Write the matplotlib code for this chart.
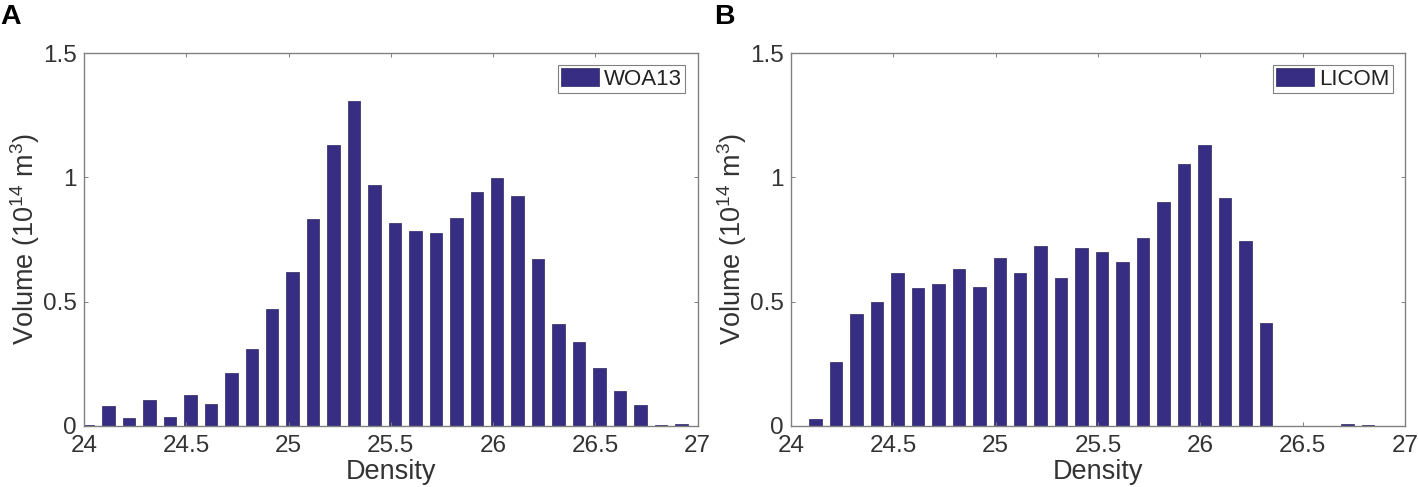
import numpy as np
import matplotlib
matplotlib.use("Agg")
import matplotlib.pyplot as plt

plt.rcParams['font.family'] = ['Liberation Sans', 'DejaVu Sans']
plt.rcParams['mathtext.fontset'] = 'custom'
plt.rcParams['mathtext.rm'] = 'Liberation Sans'
plt.rcParams['mathtext.default'] = 'regular'

density = [24.02, 24.12, 24.22, 24.32, 24.42, 24.52, 24.62, 24.72, 24.82, 24.92,
           25.02, 25.12, 25.22, 25.32, 25.42, 25.52, 25.62, 25.72, 25.82, 25.92,
           26.02, 26.12, 26.22, 26.32, 26.42, 26.52, 26.62, 26.72, 26.82, 26.92]
woa13 = [0.004, 0.08, 0.032, 0.105, 0.035, 0.123, 0.09, 0.212, 0.308, 0.47,
         0.62, 0.834, 1.131, 1.308, 0.969, 0.818, 0.785, 0.777, 0.838, 0.942,
         0.997, 0.925, 0.67, 0.409, 0.338, 0.232, 0.142, 0.086, 0.005, 0.008]
licom = [0.0, 0.028, 0.257, 0.45, 0.499, 0.614, 0.555, 0.571, 0.63, 0.559,
         0.674, 0.617, 0.725, 0.594, 0.717, 0.698, 0.661, 0.757, 0.902, 1.055,
         1.129, 0.918, 0.745, 0.414, 0.002, 0.0005, 0.002, 0.01, 0.003, 0.0005]
xticks = [24, 24.5, 25, 25.5, 26, 26.5, 27]
xticklabels = ['24', '24.5', '25', '25.5', '26', '26.5', '27']
yticks = [0, 0.5, 1, 1.5]
yticklabels = ['0', '0.5', '1', '1.5']

W, H = 1418, 487
BAR = '#372d82'
GREY = '#808080'
TEXT = '#333333'

fig = plt.figure(figsize=(W / 100, H / 100), dpi=100)


def panel(x0, x1, values, name, letter, letter_x):
    ax = fig.add_axes([x0 / W, 1 - 426 / H, (x1 - x0) / W, 373 / H])
    ax.bar(density, values, width=0.061, color=BAR, edgecolor='#2a2560',
           linewidth=0.5, label=name)
    ax.set_xlim(24, 27)
    ax.set_ylim(0, 1.5)
    ax.set_xticks(xticks)
    ax.set_xticklabels(xticklabels)
    ax.set_yticks(yticks)
    ax.set_yticklabels(yticklabels)
    ax.tick_params(direction='in', top=True, right=True, length=3, width=0.7,
                   color=GREY, labelcolor=TEXT, labelsize=17.5)
    ax.tick_params(axis='x', pad=6.5)
    ax.tick_params(axis='y', pad=5)
    for s in ax.spines.values():
        s.set_color(GREY)
        s.set_linewidth(1.0)
    ax.set_xlabel('Density', fontsize=19.5, color=TEXT)
    ax.set_ylabel('Volume (10$^{14}$ m$^{3}$)', fontsize=19.5, color=TEXT)
    # label spots measured in pixels from the axes corner
    ax.xaxis.set_label_coords(0.5, -33 / 373)
    ax.yaxis.set_label_coords(-42 / (x1 - x0), 0.5)
    leg = ax.legend(loc='upper right',
                    bbox_to_anchor=(1 - 12.5 / (x1 - x0), 1 - 12 / 373),
                    borderaxespad=0, fontsize=16, fancybox=False, framealpha=1,
                    edgecolor=GREY, handlelength=1.72, handleheight=0.84,
                    handletextpad=0.2, borderpad=0.15, labelcolor='#222222')
    leg.get_frame().set_linewidth(0.8)
    fig.text(letter_x / W, 1 - 24 / H, letter, fontsize=20.5, fontweight='bold',
             color='black', ha='left', va='baseline')
    return ax


panel(84, 697.7, woa13, 'WOA13', 'A', 0)
panel(791, 1405, licom, 'LICOM', 'B', 714)

fig.savefig('out.png', dpi=100)
